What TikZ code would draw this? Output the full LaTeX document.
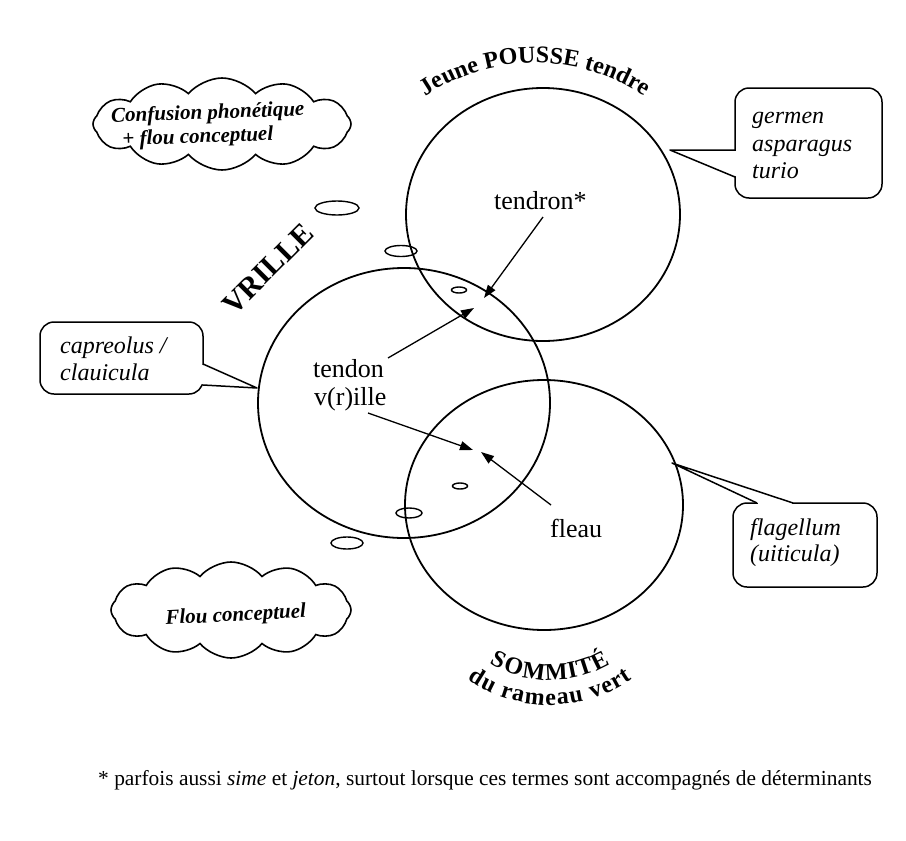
\documentclass[tikz,border=0pt]{standalone}
\usepackage{fontspec}
\setmainfont{Liberation Serif}
\usetikzlibrary{shapes.symbols,shapes.geometric,arrows.meta,decorations.text,calc}
\begin{document}
\begin{tikzpicture}[x=1pt,y=1pt,
  ring/.style={ellipse, draw, line width=1.8pt, inner sep=0pt},
  bead/.style={ellipse, draw, line width=1.4pt, inner sep=0pt},
  arr/.style={line width=1.3pt, -{Triangle[length=13pt,width=9pt]}},
  lbl/.style={font=\fontsize{26}{26}\selectfont, inner sep=0pt, anchor=base west},
  ital/.style={font=\itshape\fontsize{24}{24}\selectfont, inner sep=0pt, anchor=base west},
  puff/.style={cloud, draw, line width=1.6pt, cloud puffs=12, cloud puff arc=100, inner sep=0pt, cloud ignores aspect},
  cloudtxt/.style={font=\bfseries\itshape\fontsize{21}{21}\selectfont, inner sep=0pt, anchor=base},
  box/.style={draw, line width=1.5pt, rounded corners=14pt, inner sep=0pt},
  tail/.style={line width=1.5pt, line join=round},
  arcletter/.style={font=\bfseries\fontsize{24}{24}\selectfont, inner sep=0pt, anchor=base}
]
\useasboundingbox[fill=white] (0,0) rectangle (906,-841);

% main circles
\node[ring, minimum width=274pt, minimum height=253pt] (pousse) at (543,-214.5) {};
\node[ring, minimum width=292pt, minimum height=270pt] (vrille) at (404,-403) {};
\node[ring, minimum width=278pt, minimum height=250pt] (sommite) at (544,-505) {};

% small ellipses
\node[bead, minimum width=44pt, minimum height=14pt] (e1) at (337,-208) {};
\node[bead, minimum width=32pt, minimum height=11pt] (e2) at (401,-251) {};
\node[bead, minimum width=15pt, minimum height=6pt] (e3) at (459,-290) {};
\node[bead, minimum width=15pt, minimum height=6pt] (e4) at (460,-486) {};
\node[bead, minimum width=26pt, minimum height=10pt] (e5) at (409,-513) {};
\node[bead, minimum width=32pt, minimum height=12pt] (e6) at (347,-543) {};

% labels inside
\node[lbl] (tendron) at (494,-209) {tendron*};
\node[lbl] (tendon) at (313,-377) {tendon};
\node[lbl] (ville) at (314,-405) {v(r)ille};
\node[lbl] (fleau) at (550,-537) {fleau};

\coordinate (a1s) at (543,-217);
\coordinate (a1e) at (484,-298);
\coordinate (a2s) at (388,-358);
\coordinate (a2e) at (474,-308);
\coordinate (a3s) at (368,-413);
\coordinate (a3e) at (473,-450);
\coordinate (a4s) at (551,-505);
\coordinate (a4e) at (481,-452);
\draw[arr] (a1s) -- (a1e);
\draw[arr] (a2s) -- (a2e);
\draw[arr] (a3s) -- (a3e);
\draw[arr] (a4s) -- (a4e);

% titles
\node[font=\bfseries\fontsize{30}{30}\selectfont, rotate=45, inner sep=0pt] (vtitle) at (268,-269) {VRILLE};
\path[decorate, decoration={text along path, text align=center,
  text={|\bfseries\fontsize{24}{24}\selectfont|Jeune POUSSE tendre}}]
  (535,-258) ++(135:195) arc[start angle=135, end angle=45, radius=195];

\coordinate (somc) at (550,-560);
\foreach \ch/\ang [count=\i] in {S/243.1, O/251.3, M/261.8, M/273.2, I/281.4, T/288.0, É/296.2}
  \node[arcletter, rotate=\ang+90] (som\i) at ($(somc)+(\ang:120)$) {\ch};
\foreach \ch/\ang [count=\i] in {d/237.9, u/243.7, r/251.8, a/256.8, m/263.7, e/270.3, a/275.3, u/280.8, v/289.2, e/294.2, r/298.9, t/303.1}
  \node[arcletter, rotate=\ang+90] (ram\i) at ($(somc)+(\ang:145)$) {\ch};

% callout top right
\node[box, minimum width=147pt, minimum height=110pt] (gbox) at (808.5,-143) {};
\coordinate (gtip) at (670,-150);
\fill[white] (735,-151) -- (gtip) -- (735,-176) -- (738,-176) -- (738,-151) -- cycle;
\draw[tail] (735,-150) -- (gtip) -- (735,-177);
\node[ital] (g1) at (752,-123) {germen};
\node[ital] (g2) at (752,-151) {asparagus};
\node[ital] (g3) at (752,-178) {turio};

% callout left
\node[box, minimum width=163pt, minimum height=72pt] (cbox) at (121.5,-358) {};
\coordinate (ctip) at (257,-388);
\fill[white] (203,-365) -- (ctip) -- (203,-384) -- (200,-384) -- (200,-365) -- cycle;
\draw[tail] (203,-364) -- (ctip) -- (203,-385);
\node[ital] (c1) at (60,-353) {capreolus /};
\node[ital] (c2) at (60,-380) {clauicula};

% callout bottom right
\node[box, minimum width=144pt, minimum height=84pt] (fbox) at (805,-545) {};
\coordinate (ftip) at (672,-463);
\fill[white] (758,-503) -- (ftip) -- (792,-503) -- (792,-506) -- (758,-506) -- cycle;
\draw[tail] (757,-503) -- (ftip) -- (793,-503);
\node[ital] (f1) at (750,-535) {flagellum};
\node[ital] (f2) at (750,-561) {(uiticula)};

% clouds
\node[puff, minimum width=258pt, minimum height=92pt] (cloud1) at (222,-124) {};
\node[cloudtxt, rotate=2] (ct1) at (208,-119) {Confusion phonétique};
\node[cloudtxt, rotate=2] (ct2) at (198,-143) {+ flou conceptuel};
\node[puff, minimum width=240pt, minimum height=96pt] (cloud2) at (231,-610) {};
\node[cloudtxt, rotate=3] (ct3) at (236,-621) {Flou conceptuel};

% footnote
\node[font=\fontsize{21.4}{21.4}\selectfont, inner sep=0pt, anchor=base west] (note) at (98,-785)
  {* parfois aussi \textit{sime} et \textit{jeton}, surtout lorsque ces termes sont accompagnés de déterminants};
\end{tikzpicture}
\end{document}
